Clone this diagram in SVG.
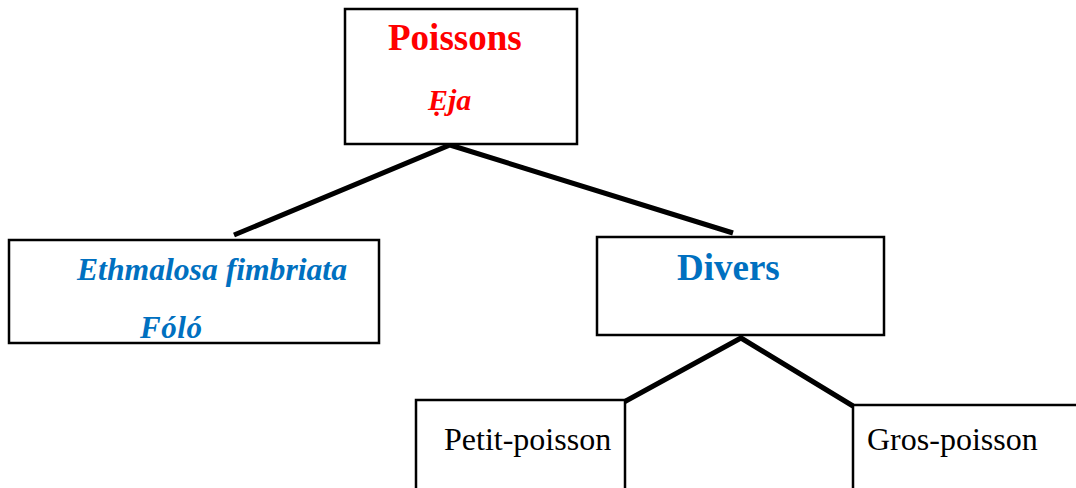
<svg xmlns="http://www.w3.org/2000/svg" width="1076" height="488" viewBox="0 0 1076 488">
<style>
.box{fill:#fff;stroke:#000;stroke-width:2.5}
.t{font-family:"Liberation Serif","Times New Roman",serif}
.b{font-weight:bold}
.i{font-style:italic}
.red{fill:#FF0000}
.blue{fill:#0070C0}
.k{fill:#000}
.con{stroke:#000;stroke-width:5;fill:none;stroke-linecap:butt}
</style>
<rect width="1076" height="488" fill="#fff"/>
<g id="connectors">
<polyline class="con" points="234,235 450,145 733,233"/>
<polyline class="con" points="624,402 741,338 853,406"/>
</g>
<g id="node-poissons">
<rect class="box" x="345" y="9" width="232" height="135"/>
<text class="t b red" x="388" y="50" font-size="37">Poissons</text>
<text class="t b i red" x="428" y="110" font-size="30">Ẹja</text>
</g>
<g id="node-ethmalosa">
<rect class="box" x="9" y="240" width="370" height="103"/>
<text class="t b i blue" x="77" y="280" font-size="31" textLength="270" lengthAdjust="spacingAndGlyphs">Ethmalosa fimbriata</text>
<text class="t b i blue" x="140" y="338" font-size="31" textLength="62">Fóló</text>
</g>
<g id="node-divers">
<rect class="box" x="597" y="237" width="287" height="98"/>
<text class="t b blue" x="677" y="280" font-size="37">Divers</text>
</g>
<g id="node-petit">
<rect class="box" x="416" y="400" width="209" height="100"/>
<text class="t k" x="444" y="450" font-size="32">Petit-poisson</text>
</g>
<g id="node-gros">
<rect class="box" x="853" y="405" width="240" height="100"/>
<text class="t k" x="867" y="450" font-size="32">Gros-poisson</text>
</g>
</svg>
